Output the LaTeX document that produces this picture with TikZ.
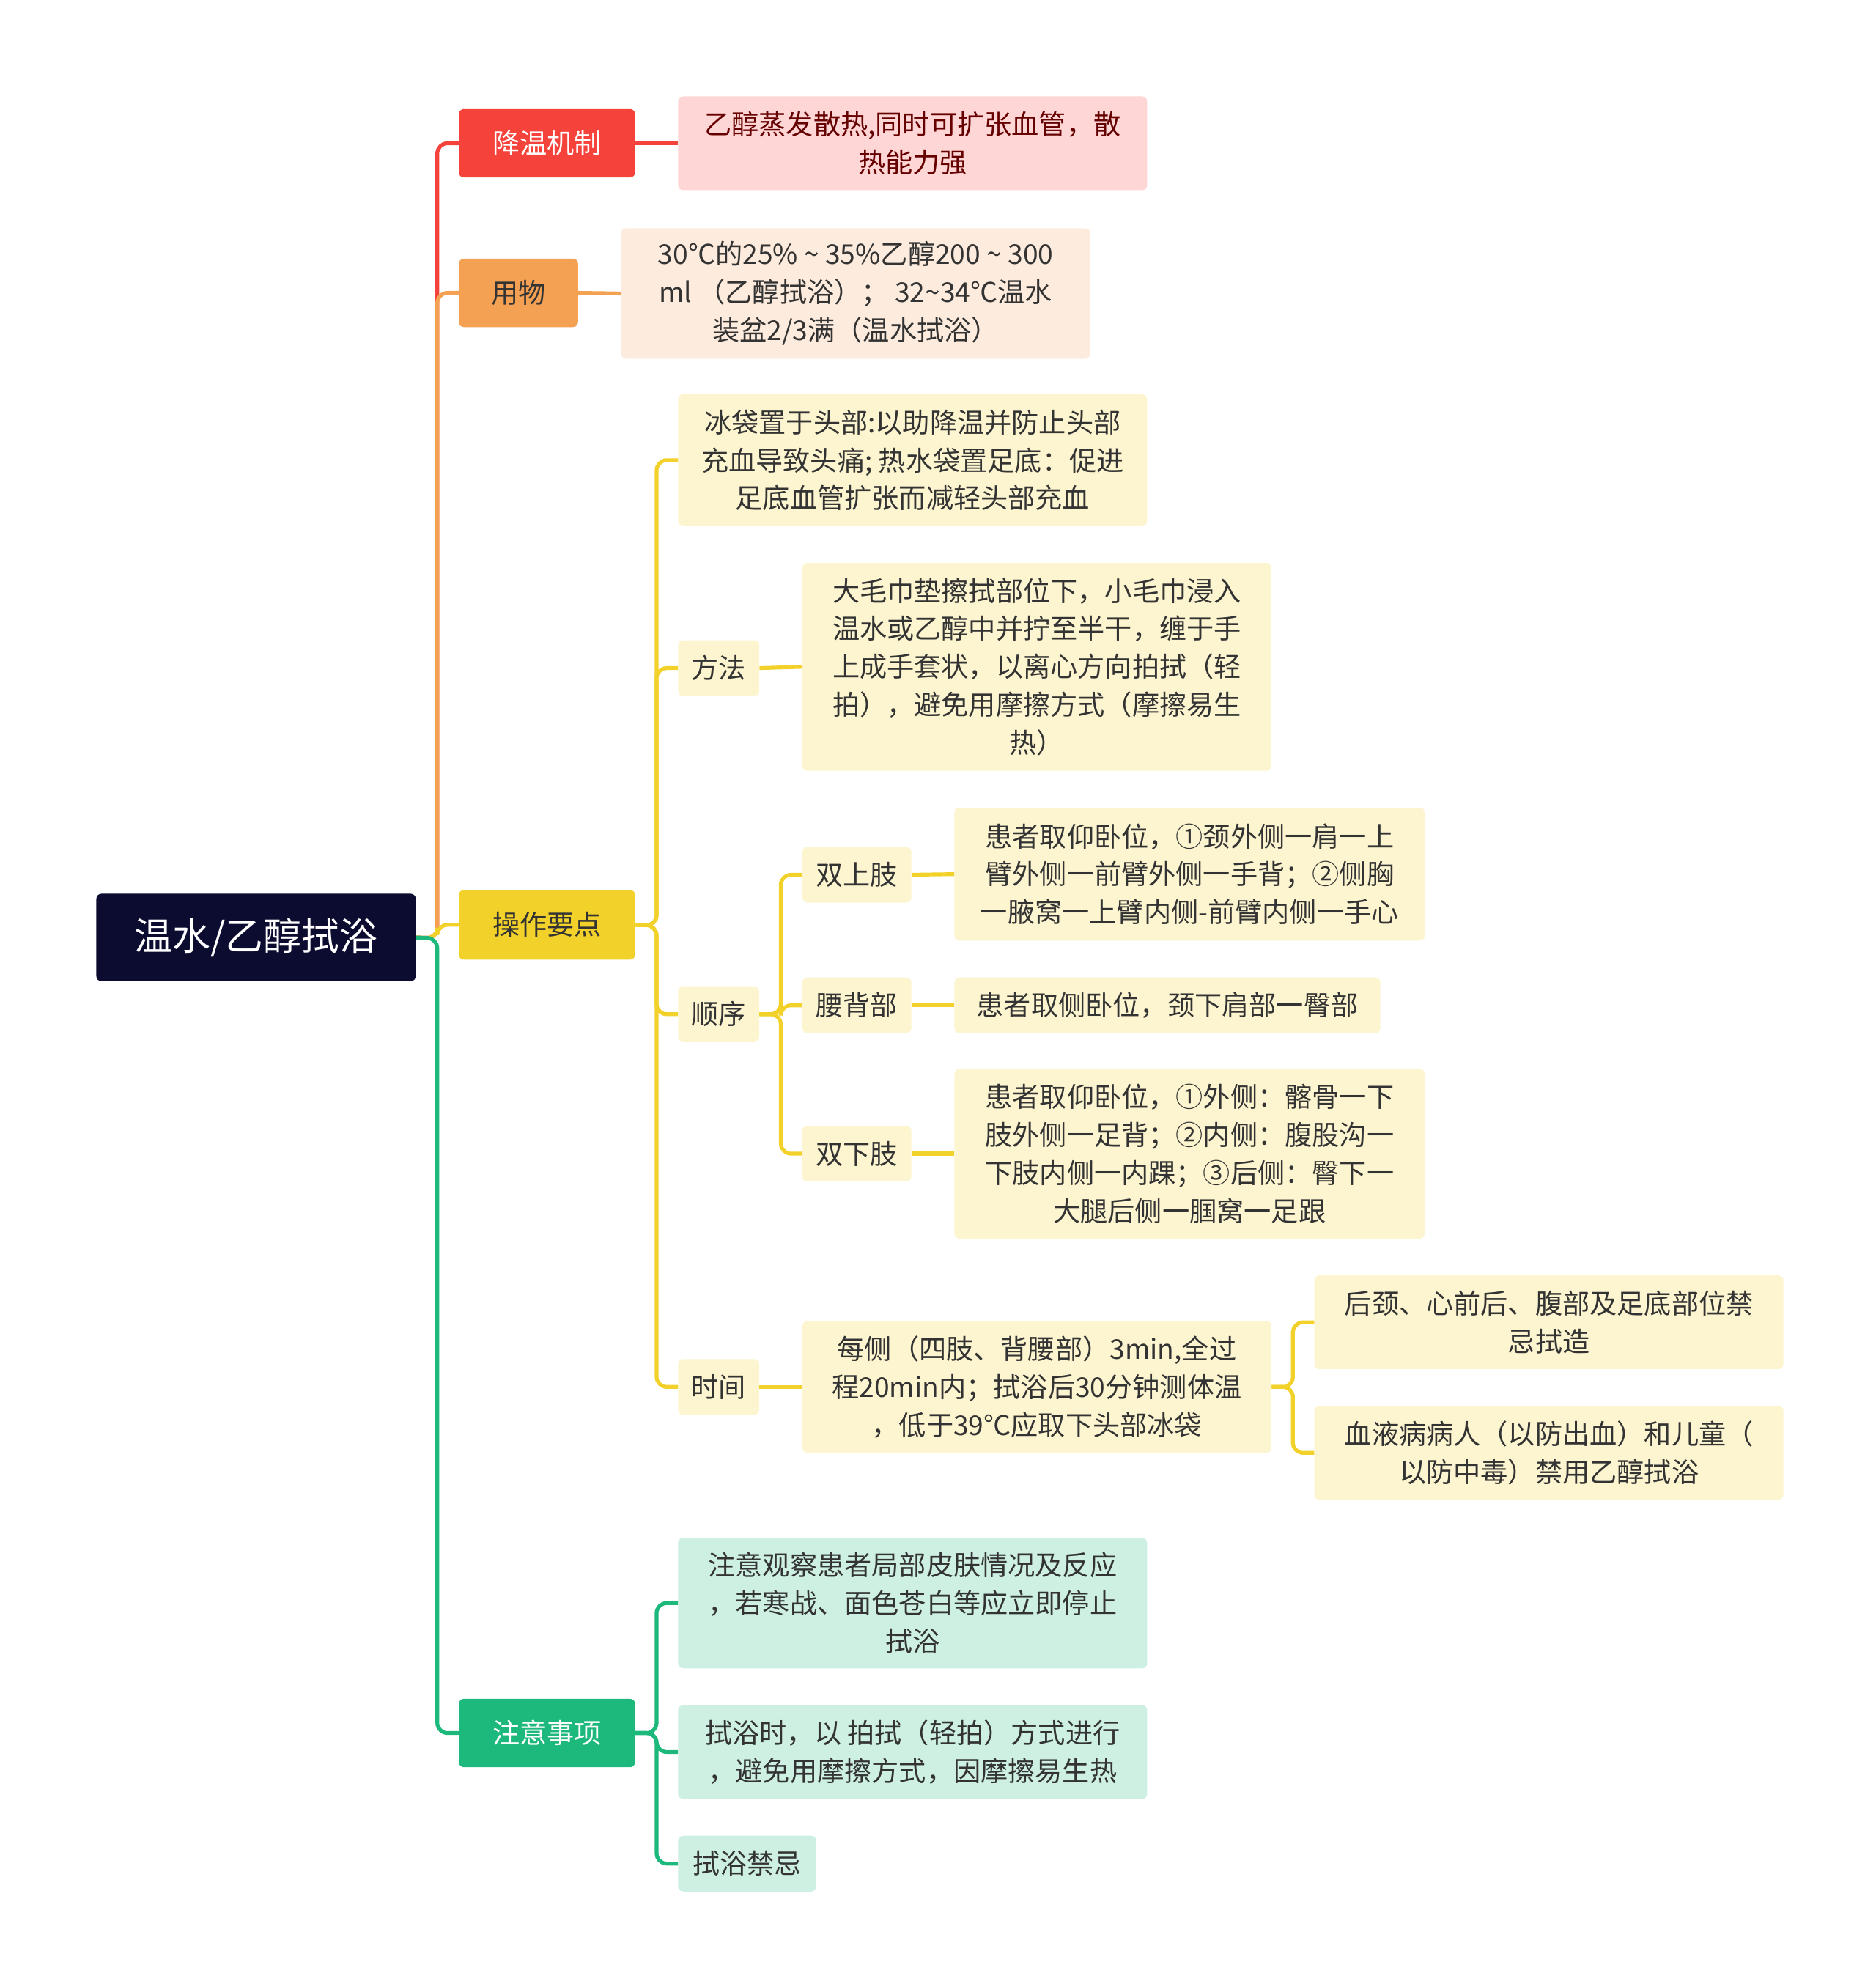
\documentclass[tikz,border=0pt]{standalone}
\usepackage{fontspec}
\setmainfont{Noto Sans CJK SC}
\begin{document}
\begin{tikzpicture}[x=1pt,y=1pt,
 box/.style={rounded corners=4pt,inner sep=0pt,align=center,font=\fontsize{21.5}{30}\selectfont,text=black!80},
 ln/.style={line width=3pt,rounded corners=8pt}]
\useasboundingbox (0,0) rectangle (1480,-1565);
\definecolor{cred}{HTML}{F5433B}\definecolor{cora}{HTML}{F5A153}
\definecolor{cyel}{HTML}{F2D12A}\definecolor{cgrn}{HTML}{1DB97C}
\definecolor{cnavy}{HTML}{0C0B30}
\newcommand{\bx}[7]{\node[box,#1,minimum width=#4-#2,minimum height=#5-#3] (#6) at ({(#2+#4)/2},{-(#3+#5)/2}) {#7};}
\bx{fill=cnavy,text=white,font=\fontsize{30}{36}\selectfont}{76}{705}{328}{774}{root}{温水/乙醇拭浴}
\bx{fill=cred,text=white}{362}{86}{501}{140}{a}{降温机制}
\bx{fill=red!16,text=red!40!black}{535}{76}{905}{150}{a1}{乙醇蒸发散热,同时可扩张血管，散\\热能力强}
\bx{fill=cora}{362}{204}{456}{258}{b}{用物}
\bx{fill=cora!20}{490}{180}{860}{283}{b1}{30℃的25\% \textasciitilde\ 35\%乙醇200 \textasciitilde\ 300\\ml （乙醇拭浴）； 32\textasciitilde34℃温水\\装盆2/3满（温水拭浴）}
\bx{fill=cyel}{362}{702}{501}{757}{c}{操作要点}
\bx{fill=cyel!22}{535}{311}{905}{415}{c1}{冰袋置于头部:以助降温并防止头部\\充血导致头痛; 热水袋置足底：促进\\足底血管扩张而减轻头部充血}
\bx{fill=cyel!22}{535}{505}{599}{549}{c2}{方法}
\bx{fill=cyel!22}{633}{444}{1003}{608}{c2a}{大毛巾垫擦拭部位下，小毛巾浸入\\温水或乙醇中并拧至半干，缠于手\\上成手套状，以离心方向拍拭（轻\\拍），避免用摩擦方式（摩擦易生\\热）}
\bx{fill=cyel!22}{535}{778}{599}{822}{c3}{顺序}
\bx{fill=cyel!22}{633}{668}{719}{712}{s1}{双上肢}
\bx{fill=cyel!22}{753}{637}{1124}{742}{s1a}{患者取仰卧位，①颈外侧一肩一上\\臂外侧一前臂外侧一手背；②侧胸\\一腋窝一上臂内侧-前臂内侧一手心}
\bx{fill=cyel!22}{633}{771}{719}{815}{s2}{腰背部}
\bx{fill=cyel!22}{753}{771}{1089}{815}{s2a}{患者取侧卧位，颈下肩部一臀部}
\bx{fill=cyel!22}{633}{888}{719}{932}{s3}{双下肢}
\bx{fill=cyel!22}{753}{843}{1124}{977}{s3a}{患者取仰卧位，①外侧：髂骨一下\\肢外侧一足背；②内侧：腹股沟一\\下肢内侧一内踝；③后侧：臀下一\\大腿后侧一腘窝一足跟}
\bx{fill=cyel!22}{535}{1072}{599}{1116}{c4}{时间}
\bx{fill=cyel!22}{633}{1042}{1003}{1146}{c4a}{每侧（四肢、背腰部）3min,全过\\程20min内；拭浴后30分钟测体温\\，低于39℃应取下头部冰袋}
\bx{fill=cyel!22}{1037}{1006}{1407}{1080}{t1}{后颈、心前后、腹部及足底部位禁\\忌拭造}
\bx{fill=cyel!22}{1037}{1109}{1407}{1183}{t2}{血液病病人（以防出血）和儿童（\\以防中毒）禁用乙醇拭浴}
\bx{fill=cgrn,text=white}{362}{1340}{501}{1394}{d}{注意事项}
\bx{fill=cgrn!22}{535}{1213}{905}{1316}{d1}{注意观察患者局部皮肤情况及反应\\，若寒战、面色苍白等应立即停止\\拭浴}
\bx{fill=cgrn!22}{535}{1345}{905}{1419}{d2}{拭浴时，以 拍拭（轻拍）方式进行\\，避免用摩擦方式，因摩擦易生热}
\bx{fill=cgrn!22}{535}{1448}{644}{1492}{d3}{拭浴禁忌}
% trunk
\draw[ln,cred] (root.east) -- (345,-740) |- (a.west);
\draw[ln,cora] (root.east) -- (345,-740) |- (b.west);
\draw[ln,cyel] (root.east) -- (345,-740) |- (c.west);
\draw[ln,cgrn] (root.east) -- (345,-740) |- (d.west);
\draw[ln,cred] (a.east) -- (a1.west);
\draw[ln,cora] (b.east) -- (b1.west);
\foreach \n in {c1,c2,c3,c4} \draw[ln,cyel] (c.east) -- (518,-730) |- (\n.west);
\draw[ln,cyel] (c2.east) -- (c2a.west);
\foreach \n in {s1,s2,s3} \draw[ln,cyel] (c3.east) -- (616,-800) |- (\n.west);
\draw[ln,cyel] (s1.east) -- (s1a.west);
\draw[ln,cyel] (s2.east) -- (s2a.west);
\draw[ln,cyel] (s3.east) -- (s3a.west);
\draw[ln,cyel] (c4.east) -- (c4a.west);
\foreach \n in {t1,t2} \draw[ln,cyel] (c4a.east) -- (1020,-1094) |- (\n.west);
\foreach \n in {d1,d2,d3} \draw[ln,cgrn] (d.east) -- (518,-1367) |- (\n.west);
\end{tikzpicture}
\end{document}
